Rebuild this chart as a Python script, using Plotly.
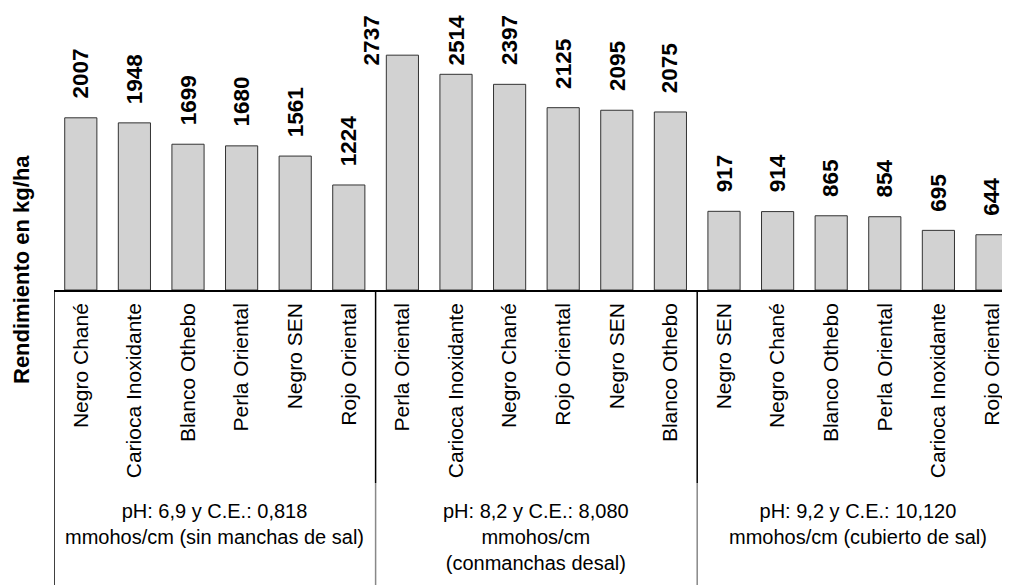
import plotly.graph_objects as go

# ---- data ----
group_labels = [
    "pH: 6,9 y C.E.: 0,818<br>mmohos/cm (sin manchas de sal)",
    "pH: 8,2 y C.E.: 8,080<br>mmohos/cm<br>(conmanchas desal)",
    "pH: 9,2 y C.E.: 10,120<br>mmohos/cm (cubierto de sal)",
]
varieties_g1 = ["Negro Chané", "Carioca Inoxidante", "Blanco Othebo", "Perla Oriental", "Negro SEN", "Rojo Oriental"]
yield_g1 = [2007, 1948, 1699, 1680, 1561, 1224]
varieties_g2 = ["Perla Oriental", "Carioca Inoxidante", "Negro Chané", "Rojo Oriental", "Negro SEN", "Blanco Othebo"]
yield_g2 = [2737, 2514, 2397, 2125, 2095, 2075]
varieties_g3 = ["Negro SEN", "Negro Chané", "Blanco Othebo", "Perla Oriental", "Carioca Inoxidante", "Rojo Oriental"]
yield_g3 = [917, 914, 865, 854, 695, 644]
y_title = "Rendimiento en kg/ha"

groups = [(varieties_g1, yield_g1), (varieties_g2, yield_g2), (varieties_g3, yield_g3)]
names, values = [], []
for v, y in groups:
    names += v
    values += y
xs = list(range(len(values)))

FONT = "Liberation Sans, Arial, Helvetica, sans-serif"
OFF = 8                      # page body margin
PAGE_W, PAGE_H = 1010, 585
W, H = PAGE_W - OFF, PAGE_H - OFF
AXIS_PX = 290                # page y of the category axis
LEFT_PX = 54                 # page x of the left edge of the plot
ML, MT = LEFT_PX - OFF, 0
PLOT_H = AXIS_PX - OFF
MB = H - MT - PLOT_H
SCALE = 0.0858               # px per kg/ha
Y_MAX = PLOT_H / SCALE
CAT_W = 53.6                 # px per category
X_MIN = -0.5
X_MAX = X_MIN + (W - ML) / CAT_W

def py(page_y):  # page pixel y -> paper coordinate
    return (AXIS_PX - page_y) / PLOT_H

def px(page_x):  # page pixel x -> paper coordinate
    return (page_x - LEFT_PX) / (W - ML)

fig = go.Figure()
fig.add_trace(go.Bar(
    x=xs, y=values, width=0.6,
    marker=dict(color="#d2d2d2", line=dict(color="#333333", width=1)),
    hoverinfo="skip", showlegend=False,
))

# value labels
VAL_SIZE = 22.5
ann = []
for x, v in zip(xs, values):
    top_px = AXIS_PX - v * SCALE
    txt_h = len(str(v)) * 0.556 * VAL_SIZE
    bottom = top_px - 17
    if bottom - txt_h < 13:
        shift = -30 if 13 + txt_h > top_px else 0
        ann.append(dict(x=x, y=py(13), xref="x", yref="paper", text=f"<b>{v}</b>",
                        textangle=-90, showarrow=False, yanchor="top", xanchor="center",
                        xshift=shift, font=dict(family=FONT, size=VAL_SIZE, color="black")))
    else:
        ann.append(dict(x=x, y=v, xref="x", yref="y", text=f"<b>{v}</b>",
                        textangle=-90, showarrow=False, yanchor="bottom", xanchor="center",
                        yshift=17, font=dict(family=FONT, size=VAL_SIZE, color="black")))

# group labels and separators
shapes = []
start = 0
bounds = [X_MIN]
for (v, _), lab in zip(groups, group_labels):
    n = len(v)
    center = start + (n - 1) / 2
    ann.append(dict(x=center, y=py(498), xref="x", yref="paper", text=lab,
                    showarrow=False, yanchor="top", xanchor="center", align="center",
                    font=dict(family=FONT, size=20, color="black")))
    start += n
    if start < len(values):
        bounds.append(start - 0.5)

shapes.append(dict(type="line", xref="x", yref="paper", x0=X_MIN, x1=X_MIN,
                   y0=0, y1=py(PAGE_H + 2), line=dict(color="black", width=1.5)))
for b in bounds[1:]:
    shapes.append(dict(type="line", xref="x", yref="paper", x0=b, x1=b,
                       y0=0, y1=py(483), line=dict(color="black", width=1.5)))
    shapes.append(dict(type="line", xref="x", yref="paper", x0=b, x1=b,
                       y0=py(483), y1=py(PAGE_H + 2), line=dict(color="#888888", width=1.5)))

# y-axis title
ann.append(dict(x=px(21), y=py(270), xref="paper", yref="paper",
                text=f"<b>{y_title}</b>", textangle=-90, showarrow=False,
                xanchor="center", yanchor="middle",
                font=dict(family=FONT, size=22, color="black")))

fig.update_layout(
    width=W, height=H,
    margin=dict(l=ML, r=0, t=MT, b=MB, pad=0, autoexpand=False),
    plot_bgcolor="white", paper_bgcolor="white",
    annotations=ann, shapes=shapes,
    xaxis=dict(range=[X_MIN, X_MAX], tickmode="array", tickvals=xs, ticktext=names,
               tickangle=-90, tickfont=dict(family=FONT, size=21, color="black"),
               ticklabelstandoff=3,
               showline=True, linecolor="black", linewidth=1.5, ticks="",
               showgrid=False, zeroline=False, fixedrange=True, automargin=False),
    yaxis=dict(range=[0, Y_MAX], visible=False, showgrid=False, zeroline=False,
               automargin=False),
)

fig.write_html("out.html")
